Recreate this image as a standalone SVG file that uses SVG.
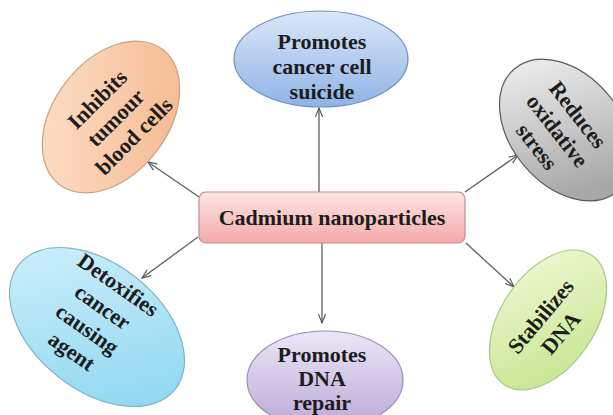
<svg xmlns="http://www.w3.org/2000/svg" width="613" height="415" viewBox="0 0 613 415">
  <defs>
    <linearGradient id="gBox" x1="0" y1="0" x2="0" y2="1">
      <stop offset="0" stop-color="#fde6e6"/>
      <stop offset="1" stop-color="#f4a9a9"/>
    </linearGradient>
    <linearGradient id="gBlue" x1="0" y1="0" x2="0" y2="1">
      <stop offset="0" stop-color="#dbe7f9"/>
      <stop offset="1" stop-color="#8fb3e6"/>
    </linearGradient>
    <linearGradient id="gOrange" x1="0" y1="0" x2="1" y2="1">
      <stop offset="0" stop-color="#fde2cc"/>
      <stop offset="1" stop-color="#f5b68a"/>
    </linearGradient>
    <linearGradient id="gGrey" x1="0" y1="0" x2="1" y2="0.3">
      <stop offset="0" stop-color="#f4f4f4"/>
      <stop offset="1" stop-color="#a8a8a8"/>
    </linearGradient>
    <linearGradient id="gCyan" x1="0" y1="0" x2="1" y2="0.5">
      <stop offset="0" stop-color="#d3f1fb"/>
      <stop offset="1" stop-color="#93d9f1"/>
    </linearGradient>
    <linearGradient id="gPurple" x1="0" y1="0" x2="0" y2="1">
      <stop offset="0" stop-color="#ece6f6"/>
      <stop offset="1" stop-color="#baa9d9"/>
    </linearGradient>
    <linearGradient id="gGreen" x1="1" y1="0" x2="0" y2="1">
      <stop offset="0" stop-color="#f1f9d6"/>
      <stop offset="1" stop-color="#c2e48a"/>
    </linearGradient>
    <marker id="arrow" viewBox="0 0 12 10" refX="11" refY="5" markerWidth="11" markerHeight="9" markerUnits="userSpaceOnUse" orient="auto">
      <path d="M1,1 L11,5 L1,9" fill="none" stroke="#595959" stroke-width="1.3"/>
    </marker>
  </defs>
  <style>
    .lbl { font-family: "Liberation Serif", "Times New Roman", serif; font-weight: bold; font-size: 22px; fill: #1c1c1c; text-anchor: middle; }
    .conn { stroke: #5f5f5f; stroke-width: 1.3; fill: none; marker-end: url(#arrow); }
  </style>
  <rect width="613" height="415" fill="#ffffff"/>

  <!-- connectors from the central box to each effect -->
  <g id="connectors">
    <line class="conn" x1="319" y1="192" x2="319" y2="108"/>
    <line class="conn" x1="322" y1="243" x2="322" y2="323"/>
    <line class="conn" x1="199" y1="197" x2="148" y2="162"/>
    <line class="conn" x1="465" y1="192" x2="518" y2="155"/>
    <line class="conn" x1="198" y1="237" x2="142" y2="278"/>
    <line class="conn" x1="466" y1="243" x2="514" y2="287"/>
  </g>

  <g id="center">
    <rect x="199" y="192" width="266" height="51" rx="7" fill="url(#gBox)" stroke="#c98a8a" stroke-width="1.2"/>
    <text class="lbl" x="332" y="225">Cadmium nanoparticles</text>
  </g>

  <g id="suicide">
    <ellipse cx="321" cy="59" rx="87" ry="48" fill="url(#gBlue)" stroke="#6f8fbf" stroke-width="1.2"/>
    <text class="lbl" x="322" y="49">Promotes</text>
    <text class="lbl" x="322" y="74">cancer cell</text>
    <text class="lbl" x="322" y="99">suicide</text>
  </g>

  <g id="repair">
    <ellipse cx="325" cy="380" rx="78" ry="49" fill="url(#gPurple)" stroke="#9a8fb8" stroke-width="1.2"/>
    <text class="lbl" x="322" y="362">Promotes</text>
    <text class="lbl" x="322" y="386">DNA</text>
    <text class="lbl" x="322" y="410">repair</text>
  </g>

  <g id="tumour">
    <ellipse cx="0" cy="0" rx="85" ry="57" transform="translate(111,117) rotate(-52.5)" fill="url(#gOrange)" stroke="#c9a37f" stroke-width="1.2"/>
    <g transform="translate(116,118) rotate(-45)">
      <text class="lbl" x="0" y="-19">Inhibits</text>
      <text class="lbl" x="0" y="7">tumour</text>
      <text class="lbl" x="0" y="33">blood cells</text>
    </g>
  </g>

  <g id="oxidative">
    <ellipse cx="0" cy="0" rx="80" ry="55" transform="translate(566,130) rotate(50)" fill="url(#gGrey)" stroke="#5a5a5a" stroke-width="1.2"/>
    <g transform="translate(557,131) rotate(52)">
      <text class="lbl" x="0" y="-19">Reduces</text>
      <text class="lbl" x="0" y="7">oxidative</text>
      <text class="lbl" x="0" y="33">stress</text>
    </g>
  </g>

  <g id="detox">
    <ellipse cx="0" cy="0" rx="100" ry="63" transform="translate(97,327) rotate(38.6)" fill="url(#gCyan)" stroke="#7fb5c8" stroke-width="1.2"/>
    <g transform="translate(95,318) rotate(35)">
      <text class="lbl" x="0" y="-33">Detoxifies</text>
      <text class="lbl" x="0" y="-6">cancer</text>
      <text class="lbl" x="0" y="21">causing</text>
      <text class="lbl" x="0" y="48">agent</text>
    </g>
  </g>

  <g id="stabilize">
    <ellipse cx="0" cy="0" rx="78" ry="47" transform="translate(548,320) rotate(-56)" fill="url(#gGreen)" stroke="#a9c682" stroke-width="1.2"/>
    <g transform="translate(551,325) rotate(-50)">
      <text class="lbl" x="0" y="-6">Stabilizes</text>
      <text class="lbl" x="0" y="20">DNA</text>
    </g>
  </g>
</svg>
